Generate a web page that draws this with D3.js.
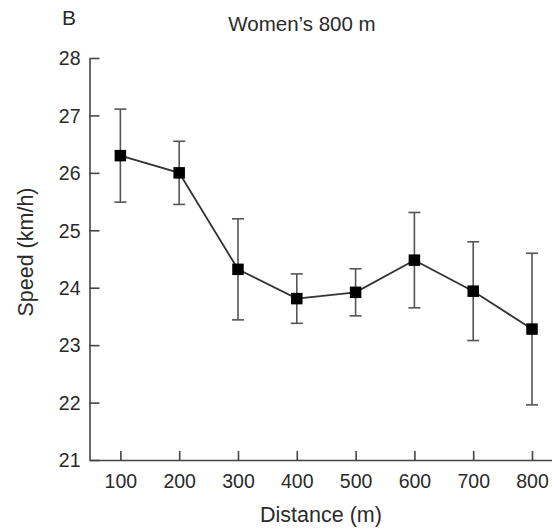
<!DOCTYPE html>
<html>
<head>
<meta charset="utf-8">
<script src="https://cdn.jsdelivr.net/npm/d3@7"></script>
<style>
  html, body { margin: 0; padding: 0; background: #fff; }
  svg { display: block; }
  text { font-family: "Liberation Sans", Arial, sans-serif; fill: #2a2a2a; }
</style>
</head>
<body>
<svg id="chart" width="552" height="529"></svg>
<script>
// Split distances (m)
const distances = [100, 200, 300, 400, 500, 600, 700, 800];
// Mean speed per 100 m segment (km/h)
const meanSpeed = [26.30, 26.00, 24.32, 23.81, 23.92, 24.48, 23.94, 23.28];
// Standard deviation (km/h)
const sdSpeed = [0.81, 0.55, 0.88, 0.43, 0.41, 0.83, 0.86, 1.32];
// Axis ticks
const xTicks = [100, 200, 300, 400, 500, 600, 700, 800];
const yTicks = [21, 22, 23, 24, 25, 26, 27, 28];

const svg = d3.select("#chart");
const axisColor = "#444";

const x = d3.scaleLinear().domain([47.5, 834]).range([89.5, 552]);
const y = d3.scaleLinear().domain([21, 28]).range([460, 58]);

// Axes: ticks point inward
const xAxis = d3.axisBottom(x).tickValues(xTicks).tickFormat(d3.format("d"))
  .tickSizeInner(-9).tickSizeOuter(0).tickPadding(14);
const yAxis = d3.axisLeft(y).tickValues(yTicks).tickFormat(d3.format("d"))
  .tickSizeInner(-10).tickSizeOuter(0).tickPadding(9);

const gx = svg.append("g").attr("transform", `translate(0,${y(21)})`).call(xAxis);
const gy = svg.append("g").attr("transform", `translate(${x(47.5)},0)`).call(yAxis);

[gx, gy].forEach(g => {
  g.select(".domain").attr("stroke", axisColor).attr("stroke-width", 1.6);
  g.selectAll(".tick line").attr("stroke", axisColor).attr("stroke-width", 1.6);
  g.selectAll(".tick text")
    .attr("font-family", "'Liberation Sans', Arial, sans-serif")
    .attr("font-size", 19.5)
    .attr("fill", "#2a2a2a");
});
gx.selectAll(".tick text").attr("dy", "0.71em");
gy.selectAll(".tick text").attr("dy", "0.35em");

// Error bars
const capHalf = 6;
const eb = svg.append("g").attr("stroke", "#555").attr("stroke-width", 1.6).attr("fill", "none");
distances.forEach((d, i) => {
  const cx = x(d);
  const top = y(meanSpeed[i] + sdSpeed[i]);
  const bot = y(meanSpeed[i] - sdSpeed[i]);
  eb.append("line").attr("x1", cx).attr("x2", cx).attr("y1", top).attr("y2", bot);
  eb.append("line").attr("x1", cx - capHalf).attr("x2", cx + capHalf).attr("y1", top).attr("y2", top);
  eb.append("line").attr("x1", cx - capHalf).attr("x2", cx + capHalf).attr("y1", bot).attr("y2", bot);
});

// Connecting line
const line = d3.line().x((d, i) => x(distances[i])).y(d => y(d));
svg.append("path")
  .datum(meanSpeed)
  .attr("d", line)
  .attr("fill", "none")
  .attr("stroke", "#333")
  .attr("stroke-width", 1.8);

// Square markers
const sq = 11.5;
svg.append("g").selectAll("rect")
  .data(meanSpeed)
  .join("rect")
  .attr("x", (d, i) => x(distances[i]) - sq / 2)
  .attr("y", d => y(d) - sq / 2)
  .attr("width", sq)
  .attr("height", sq)
  .attr("fill", "#000");

// Titles and labels
svg.append("text")
  .attr("x", 302).attr("y", 30.5)
  .attr("text-anchor", "middle")
  .attr("font-size", 20.5)
  .text("Women\u2019s 800 m");

svg.append("text")
  .attr("x", 62).attr("y", 25)
  .attr("font-size", 21)
  .text("B");

svg.append("text")
  .attr("x", 321).attr("y", 521.5)
  .attr("text-anchor", "middle")
  .attr("font-size", 21.5)
  .text("Distance (m)");

svg.append("text")
  .attr("transform", "translate(33,252) rotate(-90)")
  .attr("text-anchor", "middle")
  .attr("font-size", 21.5)
  .text("Speed (km/h)");
</script>
</body>
</html>
